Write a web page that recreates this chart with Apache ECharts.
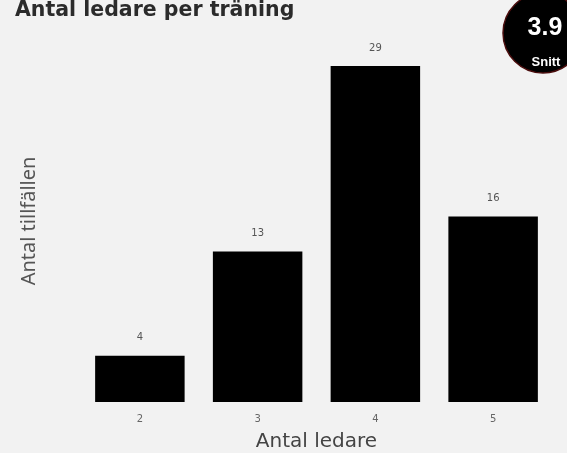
<!DOCTYPE html>
<html><head><meta charset="utf-8">
<script src="https://cdn.jsdelivr.net/npm/echarts@6/dist/echarts.min.js"></script>
<style>html,body{margin:0;padding:0;background:#f2f2f2;}#c{width:567px;height:453px;}</style>
</head><body><div id="c"></div>
<script>
const categories = ['2', '3', '4', '5'];
const counts = [4, 13, 29, 16];
const average = '3.9';
const averageLabel = 'Snitt';
const titleText = 'Antal ledare per träning';
const xName = 'Antal ledare';
const yName = 'Antal tillfällen';

const chart = echarts.init(document.getElementById('c'));
chart.setOption({
  backgroundColor: '#f2f2f2',
  animation: false,
  title: {
    text: titleText, left: 10, top: -5,
    textStyle: {fontFamily: 'DejaVu Sans', fontSize: 20.5, fontWeight: 'bold', color: '#2b2b2b'}
  },
  grid: {left: 81, right: 15, top: 66, bottom: 51, outerBoundsMode: 'none', containLabel: false},
  xAxis: {
    type: 'category', data: categories,
    name: xName, nameLocation: 'middle', nameGap: 30,
    nameTextStyle: {fontFamily: 'DejaVu Sans', fontSize: 20, color: '#444'},
    axisLine: {show: false}, axisTick: {show: false},
    axisLabel: {fontFamily: 'DejaVu Sans', fontSize: 10, color: '#666', margin: 12}
  },
  yAxis: {
    type: 'value', min: 0, max: 29,
    axisLabel: {show: false}, splitLine: {show: false}, axisLine: {show: false}, axisTick: {show: false}
  },
  series: [{
    type: 'bar', data: counts, barWidth: '76%',
    itemStyle: {color: '#000'},
    label: {show: true, position: 'top', distance: 13, fontFamily: 'DejaVu Sans', fontSize: 10, color: '#555'}
  }],
  graphic: [
    {type: 'text', x: 29, y: 221, rotation: Math.PI / 2, style: {text: yName, fill: '#555', font: '20px Noto Sans', align: 'center', verticalAlign: 'middle'}},
    {type: 'circle', shape: {cx: 543, cy: 33, r: 40}, style: {fill: '#000', stroke: '#4a0d0d', lineWidth: 1.5}, z: 100},
    {type: 'text', x: 545, y: 28, style: {text: average, fill: '#fff', font: 'bold 25px Liberation Sans', align: 'center', verticalAlign: 'middle'}, z: 101},
    {type: 'text', x: 546, y: 62, style: {text: averageLabel, fill: '#fff', font: 'bold 13px Liberation Sans', align: 'center', verticalAlign: 'middle'}, z: 101}
  ]
});
</script></body></html>
